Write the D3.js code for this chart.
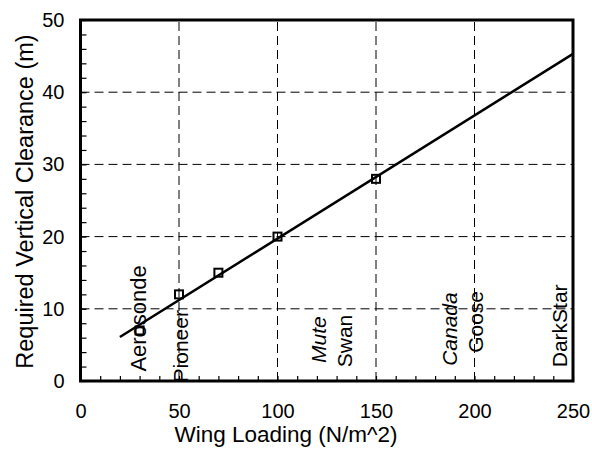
<!DOCTYPE html>
<html><head><meta charset="utf-8">
<script src="https://cdn.jsdelivr.net/npm/d3@7"></script>
<style>body{margin:0;background:#fff}text{font-family:Arial,"Liberation Sans",sans-serif;fill:#000}</style>
</head><body><svg id="c" width="592" height="452"></svg>
<script>
const wingLoading = [30, 50, 70, 100, 150];
const clearance = [7, 12, 15, 20, 28];
const fitX = [20, 250];
const fitY = [6.1, 45.3];
const xTicks = [0, 50, 100, 150, 200, 250];
const yTicks = [0, 10, 20, 30, 40, 50];
const labelNames = ["Aerosonde", "Pioneer", "Mute", "Swan", "Canada", "Goose", "DarkStar"];
const labelX = [33, 54.8, 124.6, 138, 191, 204.5, 246.8];
const labelY = [1.3, -0.2, 2.5, 1.9, 2.1, 3.9, 1.9];
const labelItalic = [false, false, true, false, true, false, false];

const svg = d3.select("#c");
const L = 80.5, R = 573, T = 20, B = 381;
const x = d3.scaleLinear().domain([0, 250]).range([L, R]);
const y = d3.scaleLinear().domain([0, 50]).range([B, T]);

// grid
const g = svg.append("g");
g.selectAll(".gx").data(xTicks.slice(1, -1)).join("line")
  .attr("x1", d => x(d)).attr("x2", d => x(d)).attr("y1", B).attr("y2", T)
  .attr("stroke", "#000").attr("stroke-width", 1).attr("stroke-dasharray", "9,5");
g.selectAll(".gy").data(yTicks.slice(1, -1)).join("line")
  .attr("x1", L).attr("x2", R).attr("y1", d => y(d)).attr("y2", d => y(d))
  .attr("stroke", "#000").attr("stroke-width", 1).attr("stroke-dasharray", "9,5");

// minor ticks via axes
const xAx = svg.append("g").attr("transform", `translate(0,${B})`)
  .call(d3.axisBottom(x).tickValues(d3.range(0, 251, 10)).tickSize(-5).tickFormat(""));
const yAx = svg.append("g").attr("transform", `translate(${L},0)`)
  .call(d3.axisLeft(y).tickValues(d3.range(0, 51, 2)).tickSize(-6).tickFormat(""));
[xAx, yAx].forEach(a => { a.select(".domain").remove(); a.selectAll("line").attr("stroke", "#000").attr("stroke-width", 1.2); });

// tick labels
svg.append("g").attr("transform", `translate(0,${B})`)
  .call(d3.axisBottom(x).tickValues(xTicks).tickSize(0).tickPadding(23))
  .call(a => { a.select(".domain").remove(); a.selectAll("text").attr("font-size", 20).attr("font-family", "Arial, 'Liberation Sans', sans-serif").attr("fill", "#000"); });
svg.append("g").attr("transform", `translate(${L},0)`)
  .call(d3.axisLeft(y).tickValues(yTicks).tickSize(0).tickPadding(16))
  .call(a => { a.select(".domain").remove(); a.selectAll("text").attr("font-size", 20).attr("font-family", "Arial, 'Liberation Sans', sans-serif").attr("fill", "#000"); });

// frame
svg.append("rect").attr("x", L).attr("y", T).attr("width", R - L).attr("height", B - T)
  .attr("fill", "none").attr("stroke", "#000").attr("stroke-width", 3);

// fit line
const line = d3.line().x(d => x(d[0])).y(d => y(d[1]));
svg.append("path").datum(fitX.map((v, i) => [v, fitY[i]])).attr("d", line)
  .attr("fill", "none").attr("stroke", "#000").attr("stroke-width", 2.5);

// markers
svg.selectAll(".pt").data(wingLoading.map((v, i) => [v, clearance[i]])).join("rect")
  .attr("x", d => x(d[0]) - 4).attr("y", d => y(d[1]) - 4).attr("width", 8).attr("height", 8)
  .attr("fill", "none").attr("stroke", "#000").attr("stroke-width", 2);

// annotations
svg.selectAll(".lab").data(labelNames).join("text")
  .attr("transform", (d, i) => `translate(${x(labelX[i])},${y(labelY[i])}) rotate(-90)`)
  .attr("font-size", (d, i) => i === 0 ? 22 : 21)
  .attr("font-style", (d, i) => labelItalic[i] ? "italic" : "normal")
  .text(d => d);

// axis titles
svg.append("text").attr("x", 286).attr("y", 442).attr("text-anchor", "middle")
  .attr("font-size", 22.5).text("Wing Loading (N/m^2)");
svg.append("text").attr("transform", `translate(33,${(370 + 33) / 2}) rotate(-90)`)
  .attr("text-anchor", "middle").attr("font-size", 23.5).text("Required Vertical Clearance (m)");
</script></body></html>
